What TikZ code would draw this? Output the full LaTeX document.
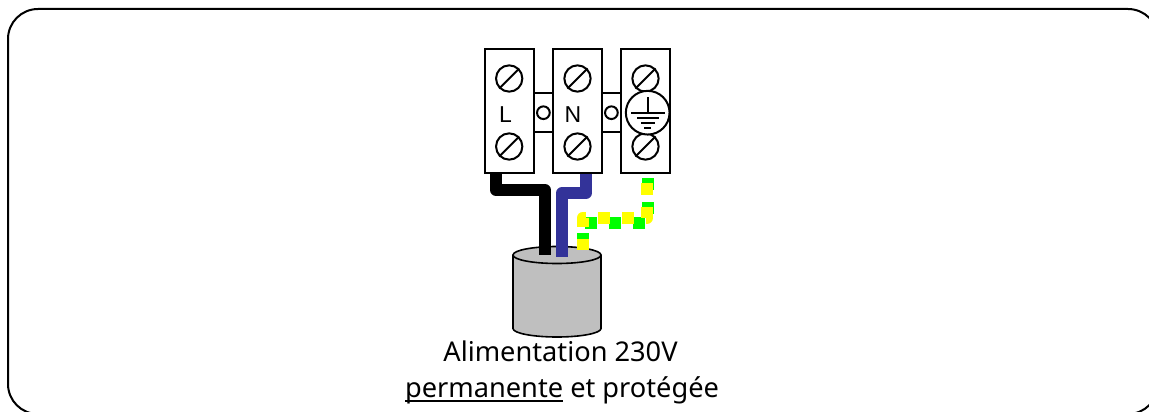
\documentclass[tikz,border=0pt]{standalone}
\usepackage{fontspec}
\setmainfont{Liberation Sans}
\newfontfamily\captionfont{Noto Sans}
\usetikzlibrary{positioning}
\newcommand{\thickunder}[1]{\setbox0=\hbox{#1}\rlap{#1}\rule[-5.3pt]{\wd0}{2.3pt}}
\tikzset{
	block/.style={draw=black, fill=white, line width=2pt, minimum width=48.7pt, minimum height=124pt, inner sep=0pt},
	bridge/.style={draw=black, fill=white, line width=2pt, minimum width=20pt, minimum height=39pt, inner sep=0pt},
	rivet/.style={draw=black, fill=white, circle, line width=2pt, minimum size=12.7pt, inner sep=0pt},
	screw/.style={draw=black, fill=white, circle, line width=2pt, minimum size=26.3pt, inner sep=0pt},
	slash/.style={black, line width=2pt},
	cable/.style={line width=12pt, line join=round},
	tiger/.style={line width=12pt, line join=round, dash pattern=on 12pt off 12pt},
	letter/.style={font=\fontsize{23}{23}\selectfont, inner sep=0pt},
	caption/.style={font=\captionfont\fontsize{27.2}{27.2}\selectfont, inner sep=0pt}
}
\begin{document}
\begin{tikzpicture}[x=1pt, y=-1pt]
	\useasboundingbox (0,0) rectangle (1149,412);
	\begin{scope}
		\clip (0,0) rectangle (1149,412);
		\draw[black, line width=2pt, rounded corners=30pt] (8,9) rectangle (1158,414);
	\end{scope}

	% bridges go under the blocks
	\node[bridge] (b1) at (543.4,112.7) {};
	\node[bridge] (b2) at (611.4,112.7) {};
	\node[rivet] (r1) at (b1.center) {};
	\node[rivet] (r2) at (b2.center) {};

	\node[block] (bl) at (509.3,111.3) {};
	\node[block, right=17.3pt of bl] (bn) {};
	\node[block, right=17.3pt of bn] (be) {};

	\node[screw] (s1) at (509.2,78.5) {};
	\node[screw] (s2) at (509.2,146.5) {};
	\node[screw] (s3) at (577.5,78.5) {};
	\node[screw] (s4) at (577.5,146.5) {};
	\node[screw] (s5) at (645.5,78.5) {};
	\node[screw] (s6) at (645.5,146.5) {};
	\foreach \s in {s1,s2,s3,s4,s5,s6}
		\draw[slash] (\s.south west) -- (\s.north east);

	\node[letter] (l) at (505.5,114.7) {L};
	\node[letter] (n) at (573,114.7) {N};

	% earth symbol
	\node[screw, minimum size=43.7pt] (g) at (647.7,112.7) {};
	\coordinate (g0) at (648,97);
	\coordinate (g1) at (648,113);
	\draw[slash] (g0) -- (g1);
	\draw[slash] (631,113) -- (665,113);
	\draw[slash] (637,117.5) -- (659,117.5);
	\draw[slash] (641,123) -- (655,123);
	\draw[slash] (644,128) -- (651,128);

	% sheath
	\coordinate (c1) at (513,255);
	\coordinate (c2) at (601,255);
	\draw[black, fill=black!25, line width=1.6pt] (c1) -- (513,328.5) arc[start angle=180, end angle=0, x radius=44, y radius=8.5] -- (c2);
	\draw[black, fill=black!25, line width=1.6pt] (557,255) ellipse[x radius=44, y radius=8.5];

	% wires
	\draw[cable, black] (496,174) -- (496,190) -- (545,190) -- (545,255);
	\draw[cable, color={rgb,255:red,51;green,51;blue,153}] (586,174) -- (586,193) -- (562,193) -- (562,257);
	\draw[tiger, color={rgb,255:red,0;green,255;blue,0}] (648,178) -- (648,223) -- (583,223) -- (583,250);
	\draw[tiger, color={rgb,255:red,255;green,255;blue,0}] (647,183) -- (647,218) -- (582.5,218) -- (582.5,250);

	\node[caption, anchor=base] (t1) at (560.5,361.5) {Alimentation 230V};
	\node[caption, anchor=base] (t2) at (562,397) {\thickunder{permanente} et protégée};
\end{tikzpicture}
\end{document}
